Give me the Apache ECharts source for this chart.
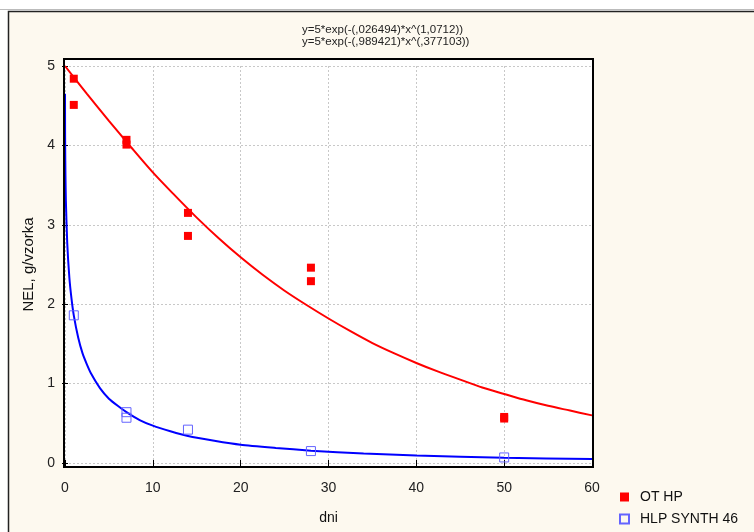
<!DOCTYPE html>
<html>
<head>
<meta charset="utf-8">
<script src="https://cdn.jsdelivr.net/npm/echarts@6/dist/echarts.min.js"></script>
<style>
  html, body { margin: 0; padding: 0; background: #fff; }
  #chart { width: 754px; height: 532px; }
</style>
</head>
<body>
<div id="chart"></div>
<script>
  // measured points
  const otHp = [[1, 4.84], [1, 4.51], [7, 4.07], [7, 4.01], [14, 3.15], [14, 2.86],
                [28, 2.46], [28, 2.29], [50, 0.58], [50, 0.56]]
  const hlpSynth = [[1, 1.86], [7, 0.64], [7, 0.57], [14, 0.42], [28, 0.15], [50, 0.07]]

  // fitted curves
  const otHpFit = [[0, 5], [2.5, 4.65], [5, 4.31], [7.5, 3.98], [10, 3.66], [12.5, 3.37], [15, 3.09],
                   [17.5, 2.83], [20, 2.59], [22.5, 2.37], [25, 2.17], [27.5, 1.99], [30, 1.82],
                   [32.5, 1.66], [35, 1.51], [37.5, 1.38], [40, 1.26], [42.5, 1.15], [45, 1.05],
                   [47.5, 0.95], [50, 0.87], [52.5, 0.79], [55, 0.72], [57.5, 0.66], [60, 0.6]]
  const hlpFit = [[0.001, 4.65], [0.01, 4.2], [0.02, 3.99], [0.05, 3.63], [0.1, 3.3], [0.25, 2.78],
                  [0.5, 2.33], [0.75, 2.06], [1, 1.86], [1.5, 1.58], [2, 1.38], [2.5, 1.24], [3, 1.12],
                  [4, 0.94], [5, 0.81], [6, 0.72], [7, 0.64], [8.5, 0.54], [10, 0.47], [12, 0.4],
                  [14, 0.34], [17, 0.28], [20, 0.23], [24, 0.19], [28, 0.155], [34, 0.12],
                  [40, 0.094], [50, 0.066], [60, 0.049]]

  const titleLines = ['y=5*exp(-(,026494)*x^(1,0712))', 'y=5*exp(-(,989421)*x^(,377103))']
  const font = 'Liberation Sans, Arial, sans-serif'

  const chart = echarts.init(document.getElementById('chart'))
  const tickSide = {
    axisLine: { show: false },
    axisTick: { show: true, inside: true, length: 3, lineStyle: { color: '#000' } },
    axisLabel: { show: false },
    splitLine: { show: false }
  }
  const option = {
    backgroundColor: '#fff',
    animation: false,
    textStyle: { fontFamily: font },
    title: {
      text: titleLines.join('\n'),
      left: 297,
      top: 19,
      textStyle: { fontSize: 11.5, fontWeight: 'normal', color: '#222', lineHeight: 12, fontFamily: font }
    },
    graphic: [
      { type: 'rect', z: -20, shape: { x: 0, y: 9, width: 760, height: 1 }, style: { fill: '#bbb' } },
      { type: 'rect', z: -10, shape: { x: 8.5, y: 11.5, width: 800, height: 600 },
        style: { fill: '#fdf9ef', stroke: '#222', lineWidth: 1.5 } },
      { type: 'rect', z: -5, shape: { x: 64, y: 59, width: 529, height: 408 },
        style: { fill: '#fff' } },
      { type: 'rect', z: 50, shape: { x: 64, y: 59, width: 529, height: 408 },
        style: { fill: 'none', stroke: '#000', lineWidth: 2 } }
    ],
    grid: { left: 65, right: 162, top: 66, bottom: 69 },
    legend: {
      orient: 'vertical',
      left: 619,
      top: 490,
      padding: 0,
      height: 60,
      itemWidth: 9,
      itemHeight: 9,
      itemGap: 8,
      data: ['OT HP', 'HLP SYNTH 46'],
      textStyle: { fontSize: 14, color: '#111', fontFamily: font, padding: [0, 0, 0, 6] }
    },
    xAxis: [
      {
        type: 'value', min: 0, max: 60, interval: 10, offset: 4,
        name: 'dni', nameLocation: 'middle', nameGap: 44,
        nameTextStyle: { fontSize: 14, color: '#111' },
        axisLine: { show: false },
        axisTick: { show: true, inside: true, length: 3, lineStyle: { color: '#000' } },
        axisLabel: { fontSize: 14, color: '#222', margin: 14 },
        splitLine: { show: true, lineStyle: { type: [2, 2], color: '#c8c8c8' } }
      },
      Object.assign({ type: 'value', min: 0, max: 60, interval: 10, position: 'top', offset: 7 }, tickSide)
    ],
    yAxis: [
      {
        type: 'value', min: 0, max: 5, interval: 1, offset: 1,
        name: 'NEL, g/vzorka', nameLocation: 'middle', nameGap: 28,
        nameTextStyle: { fontSize: 15, color: '#111' },
        axisLine: { show: false },
        axisTick: { show: true, inside: true, length: 3, lineStyle: { color: '#000' } },
        axisLabel: { fontSize: 14, color: '#222', margin: 9 },
        splitLine: { show: true, lineStyle: { type: [2, 2], color: '#c8c8c8' } }
      },
      Object.assign({ type: 'value', min: 0, max: 5, interval: 1, position: 'right', offset: 1 }, tickSide)
    ],
    series: [
      {
        name: 'OT HP fit', type: 'line', data: otHpFit, smooth: 0.3, showSymbol: false,
        lineStyle: { color: '#ff0000', width: 2 }, z: 3
      },
      {
        name: 'HLP fit', type: 'line', data: hlpFit, smooth: 0.2, showSymbol: false,
        lineStyle: { color: '#0000ff', width: 2 }, z: 3
      },
      {
        name: 'OT HP', type: 'scatter', data: otHp, symbol: 'rect', symbolSize: 8,
        itemStyle: { color: '#ff0000', opacity: 1 }, z: 5
      },
      {
        name: 'HLP SYNTH 46', type: 'scatter', data: hlpSynth, symbol: 'rect', symbolSize: 9,
        itemStyle: { color: 'rgba(0,0,0,0)', borderColor: '#6464ff', borderWidth: 1, opacity: 1 }, z: 5
      }
    ]
  }
  chart.setOption(option)
</script>
</body>
</html>
